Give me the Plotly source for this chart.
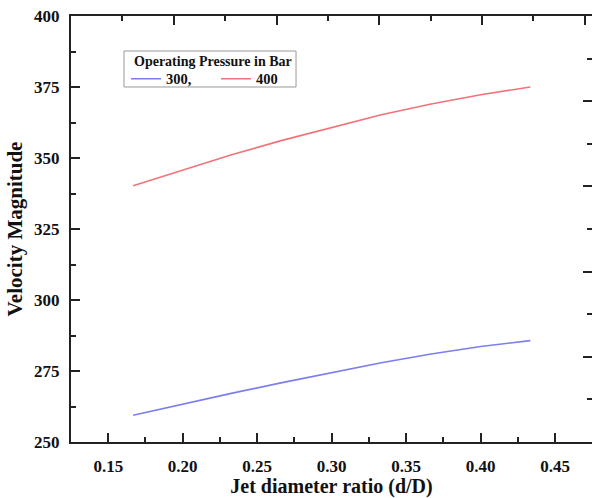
import plotly.graph_objects as go

# Data
jet_ratio = [0.1667, 0.2, 0.2333, 0.2667, 0.3, 0.3333, 0.3667, 0.4, 0.4333]
vel_300 = [259.4, 263.4, 267.2, 270.9, 274.5, 277.9, 281.0, 283.6, 285.7]
vel_400 = [340.2, 345.8, 351.2, 356.2, 360.8, 365.2, 369.0, 372.3, 375.0]
series_names = ["300,", "400"]
legend_title = "Operating Pressure in Bar"
x_title = "Jet diameter ratio (d/D)"
y_title = "Velocity Magnitude"

FONT = "Liberation Serif"
AX = "#222222"

fig = go.Figure()
fig.add_trace(go.Scatter(x=jet_ratio, y=vel_300, mode="lines", name=series_names[0],
                         line=dict(color="rgb(125,125,238)", width=1.6)))
fig.add_trace(go.Scatter(x=jet_ratio, y=vel_400, mode="lines", name=series_names[1],
                         line=dict(color="rgb(240,115,120)", width=1.6)))
# empty trace to activate the secondary (top/right) axes
fig.add_trace(go.Scatter(x=[], y=[], xaxis="x2", yaxis="y2", showlegend=False, hoverinfo="skip"))

tickfont = dict(family=FONT, size=17, color="#111111", weight="bold")

fig.update_layout(
    width=592, height=498,
    margin=dict(l=71, r=0, t=16, b=56, autoexpand=False),
    paper_bgcolor="white", plot_bgcolor="white",
    showlegend=True,
    legend=dict(
        x=0.1056, y=0.89, xanchor="left", yanchor="top",
        orientation="h",
        font=dict(family=FONT, size=14.5, color="#111111", weight="bold"),
        borderwidth=0, bgcolor="rgba(0,0,0,0)",
        itemwidth=30, entrywidth=45, tracegroupgap=0,
    ),
    shapes=[dict(type="rect", xref="paper", yref="paper",
                 x0=0.1017, x1=0.4319, y0=0.8333, y1=0.9178,
                 line=dict(color="#999999", width=1), fillcolor="rgba(0,0,0,0)")],
    annotations=[dict(text=legend_title, xref="paper", yref="paper",
                      x=0.117, y=0.893, xanchor="left", yanchor="middle", showarrow=False,
                      font=dict(family=FONT, size=14, color="#111111", weight="bold"))],
    xaxis=dict(
        range=[0.125, 0.4747], tick0=0.15, dtick=0.05, tickformat=".2f",
        ticks="inside", ticklen=9, tickwidth=2, tickcolor=AX,
        minor=dict(dtick=0.025, tick0=0.125, ticks="inside", ticklen=5, tickwidth=2, tickcolor=AX),
        showline=True, linewidth=2, linecolor=AX, mirror=False,
        showgrid=False, zeroline=False, automargin=False,
        tickfont=tickfont, ticklabelstandoff=8,
        title=dict(text=x_title, font=dict(family=FONT, size=20, color="#111111", weight="bold"), standoff=5),
    ),
    yaxis=dict(
        range=[250, 400], dtick=25,
        ticks="inside", ticklen=9, tickwidth=2, tickcolor=AX,
        minor=dict(dtick=12.5, ticks="inside", ticklen=5, tickwidth=2, tickcolor=AX),
        showline=True, linewidth=2, linecolor=AX, mirror=False,
        showgrid=False, zeroline=False, automargin=False,
        tickfont=tickfont, ticklabelstandoff=6,
        title=dict(text=y_title, font=dict(family=FONT, size=21, color="#111111", weight="bold"), standoff=6),
    ),
    xaxis2=dict(
        overlaying="x", side="top", anchor="y2",
        range=[0, 5.07], dtick=1,
        ticks="inside", ticklen=9, tickwidth=2, tickcolor=AX,
        minor=dict(dtick=0.5, ticks="inside", ticklen=5, tickwidth=2, tickcolor=AX),
        showline=True, linewidth=2, linecolor=AX, automargin=False,
        showticklabels=False, showgrid=False, zeroline=False,
    ),
    yaxis2=dict(
        overlaying="y", side="right", anchor="x2",
        range=[0, 5], dtick=1,
        ticks="inside", ticklen=9, tickwidth=2, tickcolor=AX,
        minor=dict(dtick=0.5, ticks="inside", ticklen=5, tickwidth=2, tickcolor=AX),
        showline=False, automargin=False,
        showticklabels=False, showgrid=False, zeroline=False,
    ),
)

fig.write_html(
    "out.html",
    config={"displayModeBar": False},
    post_script="document.documentElement.style.margin='0';document.body.style.margin='0';document.body.style.padding='0';document.body.style.overflow='hidden';",
)
